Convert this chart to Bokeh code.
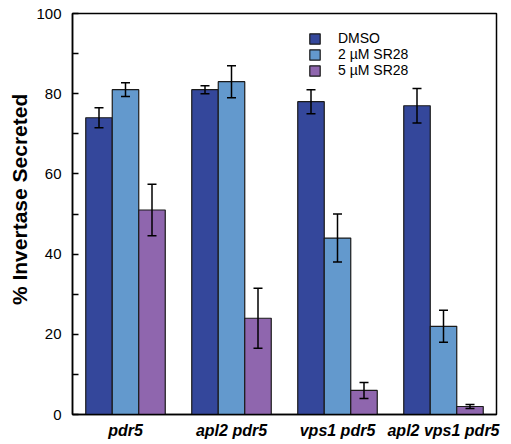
from bokeh.plotting import figure
from bokeh.models import ColumnDataSource, FactorRange, Whisker, Legend, LegendItem, FixedTicker
from bokeh.transform import dodge
from bokeh.embed import file_html
from bokeh.resources import INLINE

groups = ["pdr5", "apl2 pdr5", "vps1 pdr5", "apl2 vps1 pdr5"]
series = ["DMSO", "2 µM SR28", "5 µM SR28"]
dmso = [74, 81, 78, 77]
dmso_err = [2.5, 1.0, 3.0, 4.3]
sr2 = [81, 83, 44, 22]
sr2_err = [1.7, 4.0, 6.0, 4.0]
sr5 = [51, 24, 6, 2]
sr5_err = [6.4, 7.5, 2.0, 0.5]
colors = ["#34479B", "#6399CD", "#8F66AE"]
offsets = [-0.25, 0.0, 0.25]

p = figure(x_range=FactorRange(*groups, range_padding=0), y_range=(0, 100),
           width=511, height=444, output_backend="svg", toolbar_location=None,
           min_border_left=72, min_border_right=15, min_border_top=13, min_border_bottom=30)
p.x_range.range_padding = 0
p.grid.visible = False
p.outline_line_color = "black"
p.outline_line_width = 1.5

items = []
for vals, errs, col, off, name in zip([dmso, sr2, sr5], [dmso_err, sr2_err, sr5_err], colors, offsets, series):
    src = ColumnDataSource(dict(g=groups, v=vals,
                                up=[a + b for a, b in zip(vals, errs)],
                                lo=[a - b for a, b in zip(vals, errs)]))
    r = p.vbar(x=dodge("g", off, range=p.x_range), top="v", width=0.25, bottom=0,
               source=src, fill_color=col, line_color="#1a1a1a", line_width=1.2)
    w = Whisker(base=dodge("g", off, range=p.x_range), upper="up", lower="lo", source=src,
                line_color="black", line_width=1.5, level="overlay")
    w.upper_head.size = 9
    w.lower_head.size = 9
    w.upper_head.line_width = 1.5
    w.lower_head.line_width = 1.5
    p.add_layout(w)
    items.append(LegendItem(label=name, renderers=[r]))

legend = Legend(items=items, location=(236, 336), orientation="vertical",
                glyph_width=13, glyph_height=13, label_height=13, spacing=0,
                padding=0, margin=0, border_line_color=None, background_fill_alpha=0,
                label_text_font="Liberation Sans", label_text_font_size="14px",
                label_text_color="black",
                label_text_line_height=0.9, label_standoff=17)
p.add_layout(legend, "center")

p.yaxis.ticker = FixedTicker(ticks=[0, 20, 40, 60, 80, 100], minor_ticks=[10, 30, 50, 70, 90])
p.yaxis.axis_label = "\u00a0\u00a0\u00a0\u00a0\u00a0% Invertase Secreted"
p.yaxis.axis_label_text_font = "Liberation Sans"
p.yaxis.axis_label_text_font_style = "bold"
p.yaxis.axis_label_text_font_size = "21px"
p.yaxis.axis_label_text_color = "black"
p.yaxis.axis_label_standoff = 2
p.yaxis.major_label_text_font = "Liberation Sans"
p.yaxis.major_label_text_font_size = "15px"
p.yaxis.major_label_text_color = "black"
p.yaxis.major_label_standoff = 11
p.yaxis.major_tick_in = 6
p.yaxis.major_tick_out = 0
p.yaxis.minor_tick_in = 6
p.yaxis.minor_tick_out = 0
p.yaxis.axis_line_width = 1.5
p.yaxis.major_tick_line_width = 1.5
p.yaxis.minor_tick_line_width = 1.5

p.xaxis.major_tick_line_color = None
p.xaxis.minor_tick_line_color = None
p.xaxis.major_tick_out = 0
p.xaxis.axis_line_width = 1.5
p.xaxis.major_label_text_font = "Liberation Sans"
p.xaxis.major_label_text_font_style = "bold italic"
p.xaxis.major_label_text_font_size = "16px"
p.xaxis.major_label_text_color = "black"
p.xaxis.major_label_standoff = 7

open("out.html", "w").write(file_html(p, INLINE))
